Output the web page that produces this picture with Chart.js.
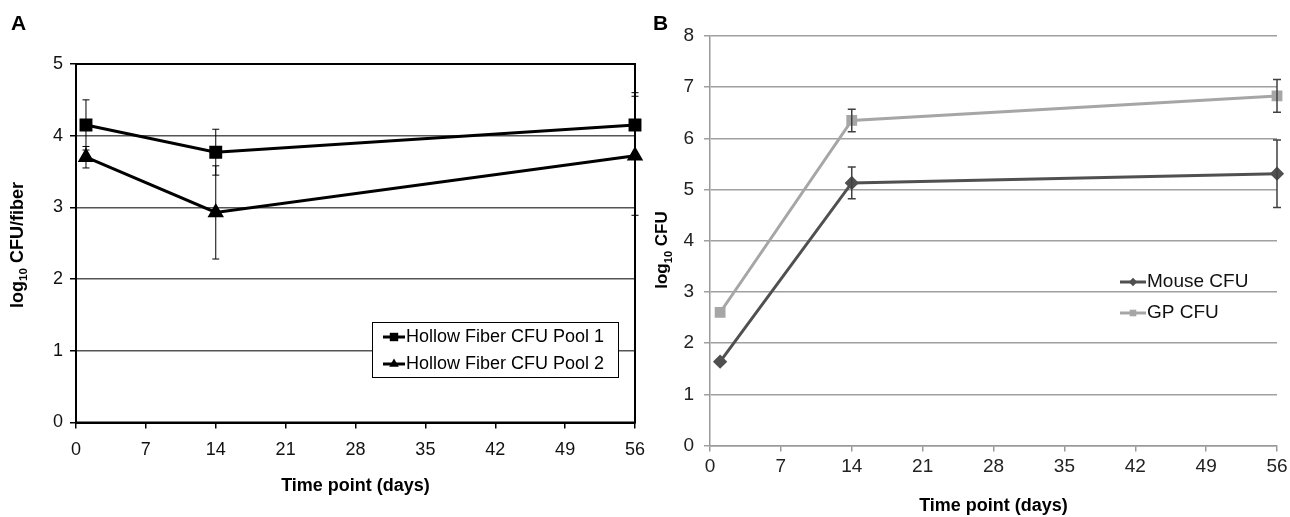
<!DOCTYPE html>
<html>
<head>
<meta charset="utf-8">
<script src="https://cdn.jsdelivr.net/npm/chart.js@4"></script>
<style>
    body { margin: 0; background: #fff; }
    #wrap { position: relative; width: 1290px; height: 517px; overflow: hidden; font-family: "Liberation Sans", Arial, sans-serif; }
    canvas { position: absolute; top: 0; }
    .panel { position: absolute; font-weight: bold; font-size: 21px; line-height: 1; color: #000; }
    .ytitle { position: absolute; font-weight: bold; white-space: nowrap; color: #000;
        transform: translate(-50%, -50%) rotate(-90deg); }
    .ytitle sub { font-size: 0.65em; }
</style>
</head>
<body>
<div id="wrap">
    <canvas id="chartA" width="660" height="517" style="left:0"></canvas>
    <canvas id="chartB" width="650" height="517" style="left:640px"></canvas>
    <div class="panel" style="left:11px; top:12px">A</div>
    <div class="panel" style="left:653px; top:12px">B</div>
    <div class="ytitle" style="left:18px; top:245px; font-size:18px">log<sub>10</sub> CFU/fiber</div>
    <div class="ytitle" style="left:663px; top:250px; font-size:17px">log<sub>10</sub> CFU</div>
</div>
<script>
const FONT = "'Liberation Sans', Arial, sans-serif";

// shared x axis (days)
const days = [1, 14, 56];
const dayTicks = [0, 7, 14, 21, 28, 35, 42, 49, 56];

// panel A - hollow fiber
const pool1 = [4.15, 3.77, 4.15];
const pool1Err = [0.35, 0.32, 0.45];
const pool2 = [3.70, 2.93, 3.72];
const pool2Err = [0.15, 0.65, 0.83];
const yTicksA = [0, 1, 2, 3, 4, 5];

// panel B - animals
const mouse = [1.64, 5.13, 5.31];
const mouseErr = [0, 0.31, 0.66];
const gp = [2.60, 6.35, 6.83];
const gpErr = [0, 0.22, 0.32];
const yTicksB = [0, 1, 2, 3, 4, 5, 6, 7, 8];

Chart.defaults.font.family = FONT;

function toPoints(vals) {
    return days.map((d, i) => ({ x: d, y: vals[i] }));
}

const errorBars = {
    id: "errorBars",
    afterDatasetsDraw(chart, args, opts) {
        const { ctx, scales: { x, y } } = chart;
        ctx.save();
        ctx.strokeStyle = opts.color;
        ctx.lineWidth = opts.width;
        chart.data.datasets.forEach((ds) => {
            ds.data.forEach((pt, i) => {
                const e = ds.errors[i];
                if (!e) return;
                const px = x.getPixelForValue(pt.x);
                const top = y.getPixelForValue(pt.y + e);
                const bot = y.getPixelForValue(pt.y - e);
                ctx.beginPath();
                ctx.moveTo(px, top);
                ctx.lineTo(px, bot);
                ctx.moveTo(px - opts.cap, top);
                ctx.lineTo(px + opts.cap, top);
                ctx.moveTo(px - opts.cap, bot);
                ctx.lineTo(px + opts.cap, bot);
                ctx.stroke();
            });
        });
        ctx.restore();
    },
};

const frame = {
    id: "frame",
    beforeDatasetsDraw(chart, args, opts) {
        if (!opts.show) return;
        const { ctx, chartArea: a } = chart;
        ctx.save();
        ctx.strokeStyle = "#000";
        ctx.lineWidth = 2;
        ctx.strokeRect(a.left, a.top, a.right - a.left, a.bottom - a.top);
        ctx.restore();
    },
};

const inlineLegend = {
    id: "inlineLegend",
    afterDraw(chart, args, opts) {
        const ctx = chart.ctx;
        ctx.save();
        if (opts.box) {
            const b = opts.box;
            ctx.fillStyle = "#fff";
            ctx.fillRect(b.x, b.y, b.w, b.h);
            ctx.strokeStyle = "#000";
            ctx.lineWidth = 1;
            ctx.strokeRect(b.x + 0.5, b.y + 0.5, b.w, b.h);
        }
        chart.data.datasets.forEach((ds, i) => {
            const y = opts.y + i * opts.rowH;
            ctx.strokeStyle = ds.borderColor;
            ctx.lineWidth = ds.borderWidth;
            ctx.beginPath();
            ctx.moveTo(opts.x, y);
            ctx.lineTo(opts.x + opts.lineLen, y);
            ctx.stroke();
            ctx.fillStyle = ds.backgroundColor;
            Chart.helpers.drawPoint(ctx, {
                pointStyle: ds.pointStyle,
                radius: ds.pointRadius * 0.85,
                rotation: 0,
                borderWidth: 0,
            }, opts.x + opts.lineLen / 2, y);
            ctx.fillStyle = opts.color;
            ctx.font = opts.font;
            ctx.textBaseline = "middle";
            ctx.textAlign = "left";
            ctx.fillText(ds.label, opts.x + opts.lineLen + 1, y);
        });
        ctx.restore();
    },
};

new Chart(document.getElementById("chartA"), {
    type: "line",
    data: {
        datasets: [
            {
                label: "Hollow Fiber CFU Pool 1",
                data: toPoints(pool1),
                errors: pool1Err,
                borderColor: "#000",
                backgroundColor: "#000",
                borderWidth: 3,
                pointStyle: "rect",
                pointRadius: 7,
                clip: false,
            },
            {
                label: "Hollow Fiber CFU Pool 2",
                data: toPoints(pool2),
                errors: pool2Err,
                borderColor: "#000",
                backgroundColor: "#000",
                borderWidth: 3,
                pointStyle: "triangle",
                pointRadius: 6.5,
                clip: false,
            },
        ],
    },
    options: {
        responsive: false,
        animation: false,
        layout: { autoPadding: false, padding: { top: 64, right: 25, left: 0, bottom: 0 } },
        plugins: {
            legend: { display: false },
            tooltip: { enabled: false },
            frame: { show: true },
            errorBars: { color: "#000", width: 1, cap: 3.5 },
            inlineLegend: {
                box: { x: 372, y: 322, w: 246, h: 55 },
                x: 383,
                y: 337,
                rowH: 27,
                lineLen: 22,
                font: "18px " + FONT,
                color: "#000",
            },
        },
        scales: {
            x: {
                type: "linear",
                min: 0,
                max: 56,
                afterBuildTicks: (s) => { s.ticks = dayTicks.map((v) => ({ value: v })); },
                ticks: { font: { size: 18 }, color: "#111", padding: 11, maxRotation: 0, autoSkip: false },
                grid: { drawOnChartArea: false, tickLength: 6, color: "#000", lineWidth: 1.5 },
                border: { color: "#000", width: 2 },
                title: {
                    display: true,
                    text: "Time point (days)",
                    font: { size: 18, weight: "bold" },
                    color: "#000",
                    padding: { top: 0, bottom: 20 },
                },
                afterFit: (s) => { s.height = 94.5; s.paddingLeft = 0; s.paddingRight = 0; },
            },
            y: {
                min: 0,
                max: 5,
                afterBuildTicks: (s) => { s.ticks = yTicksA.map((v) => ({ value: v })); },
                ticks: { font: { size: 18 }, color: "#111", padding: 7 },
                grid: { color: "#555", lineWidth: 1.5, tickLength: 6, tickColor: "#000" },
                border: { color: "#000", width: 2 },
                afterFit: (s) => { s.width = 76; s.paddingTop = 0; s.paddingBottom = 0; },
            },
        },
    },
    plugins: [frame, errorBars, inlineLegend],
});

new Chart(document.getElementById("chartB"), {
    type: "line",
    data: {
        datasets: [
            {
                label: "Mouse CFU",
                data: toPoints(mouse),
                errors: mouseErr,
                borderColor: "#505050",
                backgroundColor: "#505050",
                borderWidth: 3,
                pointStyle: "rectRot",
                pointRadius: 5,
                clip: false,
            },
            {
                label: "GP CFU",
                data: toPoints(gp),
                errors: gpErr,
                borderColor: "#a6a6a6",
                backgroundColor: "#a6a6a6",
                borderWidth: 3,
                pointStyle: "rect",
                pointRadius: 5.5,
                clip: false,
            },
        ],
    },
    options: {
        responsive: false,
        animation: false,
        layout: { autoPadding: false, padding: { top: 36, right: 13, left: 0, bottom: 0 } },
        plugins: {
            legend: { display: false },
            tooltip: { enabled: false },
            frame: { show: false },
            errorBars: { color: "#404040", width: 1.5, cap: 4 },
            inlineLegend: {
                x: 480,
                y: 282,
                rowH: 31,
                lineLen: 26,
                font: "19px " + FONT,
                color: "#111",
            },
        },
        scales: {
            x: {
                type: "linear",
                min: 0,
                max: 56,
                afterBuildTicks: (s) => { s.ticks = dayTicks.map((v) => ({ value: v })); },
                ticks: { font: { size: 19 }, color: "#222", padding: 4, maxRotation: 0, autoSkip: false },
                grid: { drawOnChartArea: false, tickLength: 6, color: "#999", lineWidth: 1.5 },
                border: { color: "#999", width: 1.5 },
                title: {
                    display: true,
                    text: "Time point (days)",
                    font: { size: 18, weight: "bold" },
                    color: "#000",
                    padding: { top: 0, bottom: 0 },
                },
                afterFit: (s) => { s.height = 71.4; s.paddingLeft = 0; s.paddingRight = 0; },
            },
            y: {
                min: 0,
                max: 8,
                afterBuildTicks: (s) => { s.ticks = yTicksB.map((v) => ({ value: v })); },
                ticks: { font: { size: 19 }, color: "#222", padding: 10 },
                grid: { color: "#a0a0a0", lineWidth: 1.5, tickLength: 6 },
                border: { color: "#999", width: 1.5 },
                afterFit: (s) => { s.width = 70; s.paddingTop = 0; s.paddingBottom = 0; },
            },
        },
    },
    plugins: [frame, errorBars, inlineLegend],
});
</script>
</body>
</html>
